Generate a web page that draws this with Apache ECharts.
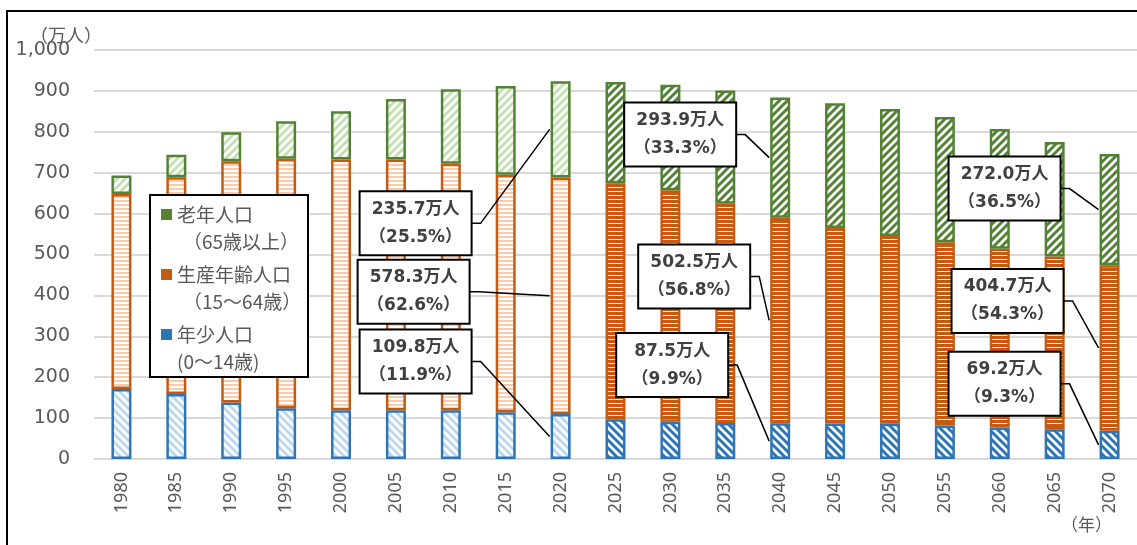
<!DOCTYPE html>
<html>
    <head>
        <meta charset="UTF-8">
        <title>年齢3区分別人口の推移</title>
        <script src="https://cdn.jsdelivr.net/npm/echarts@6.0.0/dist/echarts.min.js"></script>
        <style>
            html, body {
                margin: 0;
                padding: 0;
                background: #fff;
            }

            #chart {
                width: 1137px;
                height: 545px;
            }
        </style>
    </head>
    <body>
        <div id="chart"></div>
        <script>
            // data (万人)
            const years = ['1980', '1985', '1990', '1995', '2000', '2005', '2010', '2015', '2020',
                           '2025', '2030', '2035', '2040', '2045', '2050', '2055', '2060', '2065', '2070'];
            const young = [171, 159, 138, 124, 119, 119, 119, 114, 109.8,
                           97, 91, 88, 87.5, 87, 86, 82, 77, 73, 69.2];
            const working = [477, 530, 590, 610, 613, 613, 603, 581, 578.3,
                             577, 566, 536, 502.5, 478, 459, 448, 437, 422, 404.7];
            const old = [45, 55, 71, 92, 118, 148, 182, 217, 235.7,
                         248, 258, 277, 293.9, 305, 311, 306, 293, 280, 272.0];
            const firstProjection = '2025';

            const yTicks = [0, 100, 200, 300, 400, 500, 600, 700, 800, 900, 1000];

            // callouts: year, which group, share text
            const calloutYears = ['2020', '2020', '2020', '2040', '2040', '2040', '2070', '2070', '2070'];
            const calloutGroups = ['old', 'working', 'young', 'old', 'working', 'young', 'old', 'working', 'young'];
            const calloutShares = ['25.5', '62.6', '11.9', '33.3', '56.8', '9.9', '36.5', '54.3', '9.3'];

            // box placement relative to the segment's left-middle point: [right edge dx, centre dy]
            const calloutOffsets = [
                [-79, 94], [-81, -4], [-79, -75],
                [-34, -23], [-20, -44], [-42, -76],
                [-39, -21], [-36, -47], [-39, -61]
            ];

            const groups = {
                young: { name: '年少人口', values: young, border: '#2e75b6', light: '#bdd7ee', dark: '#2e75b6', hatch: '\\' },
                working: { name: '生産年齢人口', values: working, border: '#c55a11', light: '#f8cbad', dark: '#c55a11', hatch: '-' },
                old: { name: '老年人口', values: old, border: '#548235', light: '#c5e0b4', dark: '#548235', hatch: '/' }
            };

            const legendLines = {
                '老年人口': '{a|老年人口}\n{b|（65歳以上）}',
                '生産年齢人口': '{a|生産年齢人口}\n{b|（15～64歳）}',
                '年少人口': '{a|年少人口}\n{a|(0～14歳)}'
            };

            function stripes(color, dir, dark) {
                const c = document.createElement('canvas');
                const ctx = c.getContext('2d');
                if (dir === '-') {
                    c.width = 4;
                    c.height = 4;
                    ctx.fillStyle = '#fff';
                    ctx.fillRect(0, 0, 4, 4);
                    ctx.fillStyle = color;
                    ctx.fillRect(0, 0, 4, dark ? 3 : 2);
                } else {
                    const s = 8;
                    c.width = s;
                    c.height = s;
                    ctx.fillStyle = '#fff';
                    ctx.fillRect(0, 0, s, s);
                    ctx.strokeStyle = color;
                    ctx.lineWidth = 3;
                    ctx.beginPath();
                    for (let k = -1; k <= 1; k++) {
                        if (dir === '/') {
                            ctx.moveTo(k * s - 1, s + 1);
                            ctx.lineTo(k * s + s + 1, -1);
                        } else {
                            ctx.moveTo(k * s - 1, -1);
                            ctx.lineTo(k * s + s + 1, s + 1);
                        }
                    }
                    ctx.stroke();
                }
                return { image: c, repeat: 'repeat' };
            }

            function barSeries(key) {
                const g = groups[key];
                const histFill = stripes(g.light, g.hatch, false);
                const projFill = stripes(g.dark, g.hatch, true);
                const proj = years.indexOf(firstProjection);
                return {
                    name: g.name,
                    type: 'bar',
                    stack: 'pop',
                    barWidth: 20,
                    z: 2,
                    itemStyle: {
                        color: histFill,
                        borderColor: g.border,
                        borderWidth: 2.5
                    },
                    data: g.values.map((v, i) => ({
                        value: v,
                        itemStyle: { color: i >= proj ? projFill : histFill }
                    }))
                };
            }

            function calloutData() {
                return calloutYears.map((y, i) => {
                    const idx = years.indexOf(y);
                    const key = calloutGroups[i];
                    let lo = young[idx];
                    if (key === 'young') {
                        lo = 0;
                    } else if (key === 'old') {
                        lo = young[idx] + working[idx];
                    }
                    const v = groups[key].values[idx];
                    return [idx, lo, lo + v, v];
                });
            }

            const boxTextWidth = 92;
            const boxPadX = 9;

            function renderCallout(params, api) {
                const i = params.dataIndex;
                const mid = api.coord([api.value(0), (api.value(1) + api.value(2)) / 2]);
                const ax = mid[0] - 11;
                const ay = mid[1];
                const rx = ax + calloutOffsets[i][0];
                const cy = ay + calloutOffsets[i][1];
                const text = api.value(3).toFixed(1) + '万人\n（' + calloutShares[i] + '%）';
                return {
                    type: 'group',
                    children: [
                        {
                            type: 'polyline',
                            shape: { points: [[ax, ay], [rx + 10, cy], [rx, cy]] },
                            style: { stroke: '#000', lineWidth: 1.5, fill: null }
                        },
                        {
                            type: 'text',
                            x: rx - boxTextWidth / 2 - boxPadX,
                            y: cy,
                            style: {
                                text: text,
                                width: boxTextWidth,
                                align: 'center',
                                verticalAlign: 'middle',
                                font: "bold 17px 'DejaVu Sans', 'Noto Sans CJK JP'",
                                fill: '#404040',
                                lineHeight: 28,
                                backgroundColor: '#fff',
                                borderColor: '#000',
                                borderWidth: 2,
                                padding: [3, boxPadX]
                            }
                        }
                    ]
                };
            }

            window.onload = function() {
                const chart = echarts.init(document.getElementById('chart'));

                const option = {
                    animation: false,
                    grid: {
                        left: 94,
                        right: -3,
                        top: 50,
                        bottom: 86
                    },
                    xAxis: {
                        type: 'category',
                        data: years,
                        axisLine: { lineStyle: { color: '#d9d9d9', width: 2 } },
                        axisTick: { show: false },
                        axisLabel: {
                            rotate: 90,
                            margin: 13,
                            fontFamily: 'Noto Sans',
                            fontSize: 18,
                            color: '#595959'
                        }
                    },
                    yAxis: {
                        type: 'value',
                        min: yTicks[0],
                        max: yTicks[yTicks.length - 1],
                        interval: yTicks[1] - yTicks[0],
                        axisLine: { show: false },
                        axisTick: { show: false },
                        splitLine: { lineStyle: { color: '#d9d9d9', width: 2 } },
                        axisLabel: {
                            margin: 24,
                            fontFamily: 'DejaVu Sans',
                            fontSize: 19,
                            color: '#595959',
                            formatter: v => v.toLocaleString('en-US')
                        }
                    },
                    legend: {
                        orient: 'vertical',
                        left: 161,
                        top: 174,
                        padding: 0,
                        itemWidth: 11,
                        itemHeight: 11,
                        itemGap: -21,
                        icon: 'rect',
                        z: 11,
                        selectedMode: false,
                        data: [
                            { name: '老年人口', itemStyle: { color: '#548235', borderWidth: 0 } },
                            { name: '生産年齢人口', itemStyle: { color: '#c55a11', borderWidth: 0 } },
                            { name: '年少人口', itemStyle: { color: '#2e75b6', borderWidth: 0 } }
                        ],
                        formatter: name => legendLines[name],
                        textStyle: {
                            padding: [27, 0, 0, 0],
                            backgroundColor: 'rgba(255,255,255,0)',
                            rich: {
                                a: {
                                    fontFamily: 'Noto Sans CJK JP',
                                    fontSize: 19,
                                    lineHeight: 27,
                                    color: '#595959'
                                },
                                b: {
                                    fontFamily: 'Noto Sans CJK JP',
                                    fontSize: 19,
                                    lineHeight: 27,
                                    color: '#595959',
                                    padding: [0, 0, 0, 6]
                                }
                            }
                        }
                    },
                    graphic: [
                        {
                            type: 'rect',
                            z: 0,
                            shape: { x: 7, y: 11, width: 1140, height: 560 },
                            style: { fill: 'none', stroke: '#000', lineWidth: 2 }
                        },
                        {
                            type: 'rect',
                            z: 10,
                            shape: { x: 150, y: 195, width: 158, height: 182 },
                            style: { fill: '#fff', stroke: '#000', lineWidth: 2 }
                        },
                        {
                            type: 'text',
                            x: 30,
                            y: 26,
                            style: { text: '（万人）', font: "18px 'Noto Sans CJK JP'", fill: '#595959' }
                        },
                        {
                            type: 'text',
                            x: 1061,
                            y: 516,
                            style: { text: '（年）', font: "17px 'Noto Sans CJK JP'", fill: '#595959' }
                        }
                    ],
                    series: [
                        barSeries('young'),
                        barSeries('working'),
                        barSeries('old'),
                        {
                            type: 'custom',
                            coordinateSystem: 'cartesian2d',
                            z: 12,
                            silent: true,
                            clip: false,
                            encode: { x: 0, y: [1, 2] },
                            data: calloutData(),
                            renderItem: renderCallout
                        }
                    ]
                };

                chart.setOption(option);
            };
        </script>
    </body>
</html>
